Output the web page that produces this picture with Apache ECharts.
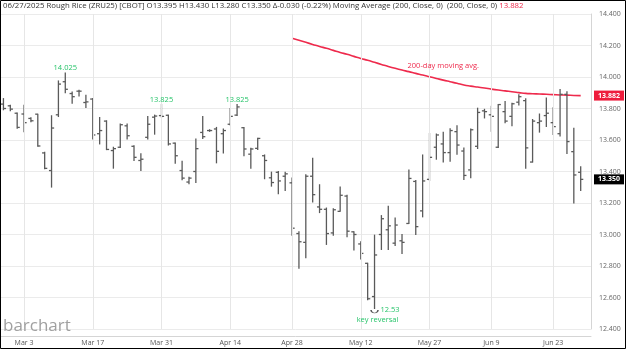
<!DOCTYPE html>
<html><head><meta charset="utf-8">
<script src="https://cdn.jsdelivr.net/npm/echarts@6/dist/echarts.min.js"></script>
<style>html,body{margin:0;padding:0;background:#fff}#c{width:626px;height:349px}</style>
</head><body><div id="c"></div>
<script>
const dates = ['Feb 26','Feb 27','Feb 28',
'Mar 3','Mar 4','Mar 5','Mar 6','Mar 7','Mar 10','Mar 11','Mar 12','Mar 13','Mar 14','Mar 17','Mar 18','Mar 19','Mar 20','Mar 21','Mar 24','Mar 25','Mar 26','Mar 27','Mar 28','Mar 31',
'Apr 1','Apr 2','Apr 3','Apr 4','Apr 7','Apr 8','Apr 9','Apr 10','Apr 11','Apr 14','Apr 15','Apr 16','Apr 17','Apr 21','Apr 22','Apr 23','Apr 24','Apr 25','Apr 28','Apr 29','Apr 30',
'May 1','May 2','May 5','May 6','May 7','May 8','May 9','May 12','May 13','May 14','May 15','May 16','May 19','May 20','May 21','May 22','May 23','May 27','May 28','May 29','May 30',
'Jun 2','Jun 3','Jun 4','Jun 5','Jun 6','Jun 9','Jun 10','Jun 11','Jun 12','Jun 13','Jun 16','Jun 17','Jun 18','Jun 20','Jun 23','Jun 24','Jun 25','Jun 26','Jun 27'];
const opens = [13.828,13.817,13.770,13.765,13.737,13.764,13.518,13.406,13.760,13.970,13.895,13.910,13.838,13.860,13.640,13.720,13.533,13.554,13.690,13.560,13.470,13.617,13.745,13.755,13.757,13.580,13.406,13.333,13.400,13.648,13.660,13.670,13.640,13.700,13.758,13.678,13.510,13.547,13.500,13.360,13.395,13.370,13.328,13.006,12.950,13.370,13.175,13.160,13.010,13.147,13.244,13.017,12.940,12.817,12.606,13.000,13.030,12.945,12.960,13.070,13.337,13.150,13.350,13.554,13.575,13.520,13.653,13.530,13.410,13.560,13.785,13.760,13.554,13.780,13.750,13.840,13.850,13.460,13.710,13.755,13.710,13.640,13.890,13.526,13.395];
const highs = [13.863,13.821,13.771,13.821,13.741,13.764,13.522,13.754,13.975,14.025,13.905,13.916,13.884,13.863,13.743,13.722,13.554,13.701,13.701,13.564,13.512,13.750,13.758,13.825,13.758,13.581,13.465,13.364,13.606,13.749,13.665,13.680,13.670,13.800,13.825,13.680,13.547,13.611,13.505,13.396,13.400,13.396,13.358,13.017,13.379,13.484,13.316,13.168,13.164,13.301,13.249,13.017,12.954,12.817,12.996,13.120,13.180,13.104,13.000,13.410,13.343,13.505,13.642,13.638,13.650,13.672,13.690,13.550,13.670,13.802,13.795,13.814,13.826,13.845,13.834,13.888,13.862,13.730,13.765,13.866,13.805,13.920,13.907,13.674,13.430];
const lows = [13.792,13.785,13.674,13.653,13.716,13.560,13.417,13.301,13.749,13.900,13.834,13.880,13.806,13.606,13.575,13.539,13.421,13.552,13.606,13.470,13.406,13.606,13.637,13.745,13.568,13.453,13.347,13.322,13.330,13.610,13.655,13.455,13.518,13.695,13.755,13.500,13.420,13.540,13.354,13.307,13.259,13.280,12.996,12.785,12.853,13.206,13.139,12.937,12.996,13.147,12.985,12.901,12.844,12.585,12.530,12.905,12.905,12.930,12.880,13.070,13.000,13.112,13.343,13.478,13.460,13.465,13.510,13.350,13.360,13.546,13.740,13.655,13.552,13.710,13.690,13.822,13.420,13.460,13.650,13.685,13.635,13.625,13.515,13.200,13.280];
const closes = [13.800,13.796,13.680,13.710,13.722,13.562,13.420,13.676,13.955,13.922,13.875,13.910,13.842,13.632,13.660,13.540,13.545,13.697,13.627,13.490,13.478,13.700,13.752,13.750,13.575,13.500,13.358,13.358,13.545,13.621,13.660,13.528,13.660,13.750,13.810,13.543,13.543,13.610,13.470,13.330,13.340,13.385,13.040,12.954,13.370,13.253,13.160,13.006,13.157,13.249,13.021,13.000,12.880,12.592,12.870,13.100,13.055,13.060,12.950,13.356,13.050,13.340,13.490,13.632,13.520,13.660,13.568,13.375,13.665,13.775,13.780,13.750,13.825,13.720,13.830,13.875,13.550,13.720,13.720,13.770,13.685,13.890,13.590,13.378,13.350];
const ma200 = [null,null,null,null,null,null,null,null,null,null,null,null,null,null,null,null,null,null,null,null,null,null,null,null,null,null,null,null,null,null,null,null,null,null,null,null,null,null,null,null,null,null,
14.246,14.233,14.220,14.207,14.194,14.182,14.169,14.156,14.144,14.131,14.118,14.106,14.093,14.080,14.067,14.055,14.044,14.034,14.023,14.013,14.002,13.991,13.980,13.970,13.960,13.949,13.942,13.936,13.930,13.923,13.917,13.912,13.906,13.901,13.896,13.894,13.892,13.890,13.888,13.886,13.885,13.883,13.882];
const axisDates = ['Mar 3','Mar 17','Mar 31','Apr 14','Apr 28','May 12','May 27','Jun 9','Jun 23'];
const highNotes = [['Mar 11',14.025,'14.025'],['Mar 31',13.825,'13.825'],['Apr 15',13.825,'13.825']];
const lowNote = ['May 14',12.53,'12.53','key reversal'];
const maNote = ['May 29',14.07,'200-day moving avg.'];
const lastClose = 13.350, lastMA = 13.882;
const header = {pre:'06/27/2025 Rough Rice (ZRU25) [CBOT] O13.395 H13.430 L13.280 C13.350 \u0394-0.030 (-0.22%) Moving Average (200, Close, 0)  (200, Close, 0) ', ma:'13.882'};

const cats = dates.concat(['']);
const ohlc = dates.map((d,i)=>[i, opens[i], highs[i], lows[i], closes[i]]);
const GREEN = '#27c46a', RED = '#ee2a4c', BAR = '#5a5a5a';

const chart = echarts.init(document.getElementById('c'), null, {renderer:'canvas'});
chart.setOption({
  animation:false,
  backgroundColor:'#fff',
  grid:{left:0, right:35, top:14, bottom:20, containLabel:false},
  xAxis:{type:'category', data:cats, boundaryGap:true, offset:7,
    axisLine:{show:true, lineStyle:{color:'#d5d5d5'}},
    axisTick:{show:false},
    splitLine:{show:false},
    axisLabel:{interval:(i,v)=>axisDates.includes(v), color:'#555', fontSize:7, margin:3, fontFamily:'Open Sans'}},
  yAxis:{type:'value', position:'right', min:12.4, max:14.4, interval:0.2, scale:true,
    axisLine:{show:true, lineStyle:{color:'#d5d5d5'}},
    axisTick:{show:false},
    splitLine:{show:true, lineStyle:{color:'#ebebeb'}},
    axisLabel:{color:'#666', fontSize:7, margin:8, fontFamily:'Open Sans', formatter:v=>v.toFixed(3)}},
  series:[
    {type:'line', data:cats.map(()=>null), z:1, silent:true,
      markLine:{silent:true, symbol:['none','none'], label:{show:false},
        lineStyle:{color:'#e6e6e6', type:'solid', width:1},
        data:axisDates.map(d=>({xAxis:d}))}},
    {type:'line', data:ma200, z:2, smooth:true, showSymbol:false, symbol:'none',
      lineStyle:{color:RED, width:1.6}, silent:true,
      markPoint:{symbol:'circle', symbolSize:0, silent:true,
        label:{show:true, color:RED, fontSize:7.5, fontFamily:'Open Sans', position:'inside', formatter:p=>p.data.txt},
        data:[{coord:[maNote[0], maNote[1]], txt:maNote[2]}]}},
    {type:'custom', z:3, data:ohlc, encode:{x:0, y:[1,2,3,4]},
      renderItem:(params, api)=>{
        const idx = api.value(0);
        const o = api.coord([idx, api.value(1)]);
        const h = api.coord([idx, api.value(2)]);
        const l = api.coord([idx, api.value(3)]);
        const c = api.coord([idx, api.value(4)]);
        const t = 2.6, st = {stroke:BAR, lineWidth:1.3};
        return {type:'group', children:[
          {type:'line', shape:{x1:h[0], y1:h[1]-0.5, x2:l[0], y2:l[1]+0.5}, style:st},
          {type:'line', shape:{x1:o[0]-t, y1:o[1], x2:o[0], y2:o[1]}, style:st},
          {type:'line', shape:{x1:c[0], y1:c[1], x2:c[0]+t, y2:c[1]}, style:st}
        ]};
      },
      markPoint:{symbol:'circle', symbolSize:0, silent:true,
        label:{show:true, color:GREEN, fontSize:7.5, fontFamily:'Open Sans', position:'top', distance:1, formatter:p=>p.data.txt},
        data:highNotes.map(n=>({coord:[n[0], n[1]], txt:n[2]})).concat([
          {coord:[lowNote[0], lowNote[1]], txt:lowNote[2], label:{position:'right', distance:6, offset:[0,1]}},
          {coord:[lowNote[0], lowNote[1]], txt:lowNote[3], label:{position:'bottom', distance:7, offset:[3,0]}},
          {coord:[lowNote[0], lowNote[1]], txt:'', symbol:'path://M0,0 A5,3 0 0 0 10,0', symbolSize:[7,3], symbolOffset:[0,3],
            itemStyle:{color:'rgba(0,0,0,0)', borderColor:'#555', borderWidth:1}}
        ])}}
  ]
});

const yMA = chart.convertToPixel({yAxisIndex:0}, lastMA);
const yC = chart.convertToPixel({yAxisIndex:0}, lastClose);
chart.setOption({graphic:[
  {type:'rect', shape:{x:0.5, y:0.5, width:625, height:348}, style:{fill:'none', stroke:'#000', lineWidth:1}, silent:true, z:100},
  {type:'text', x:3, y:6, style:{text:'{a|'+header.pre+'}{b|'+header.ma+'}', verticalAlign:'middle',
    rich:{a:{fill:'#333', fontSize:7.8, fontFamily:'Open Sans'}, b:{fill:RED, fontSize:7.8, fontFamily:'Open Sans'}}}, z:50},
  {type:'text', x:3, y:326, style:{text:'barchart', fill:'#a0a0a0', fontSize:17, fontFamily:'Open Sans', verticalAlign:'middle'}, z:50},
  {type:'rect', shape:{x:594, y:yMA-5, width:30, height:10}, style:{fill:'#ee1c3c'}, z:60},
  {type:'text', x:609, y:yMA, style:{text:lastMA.toFixed(3), fill:'#fff', fontSize:7, fontWeight:'bold', fontFamily:'Open Sans', align:'center', verticalAlign:'middle'}, z:61},
  {type:'rect', shape:{x:594, y:yC-5, width:30, height:10}, style:{fill:'#000'}, z:60},
  {type:'text', x:609, y:yC, style:{text:lastClose.toFixed(3), fill:'#fff', fontSize:7, fontWeight:'bold', fontFamily:'Open Sans', align:'center', verticalAlign:'middle'}, z:61}
]});
</script></body></html>
